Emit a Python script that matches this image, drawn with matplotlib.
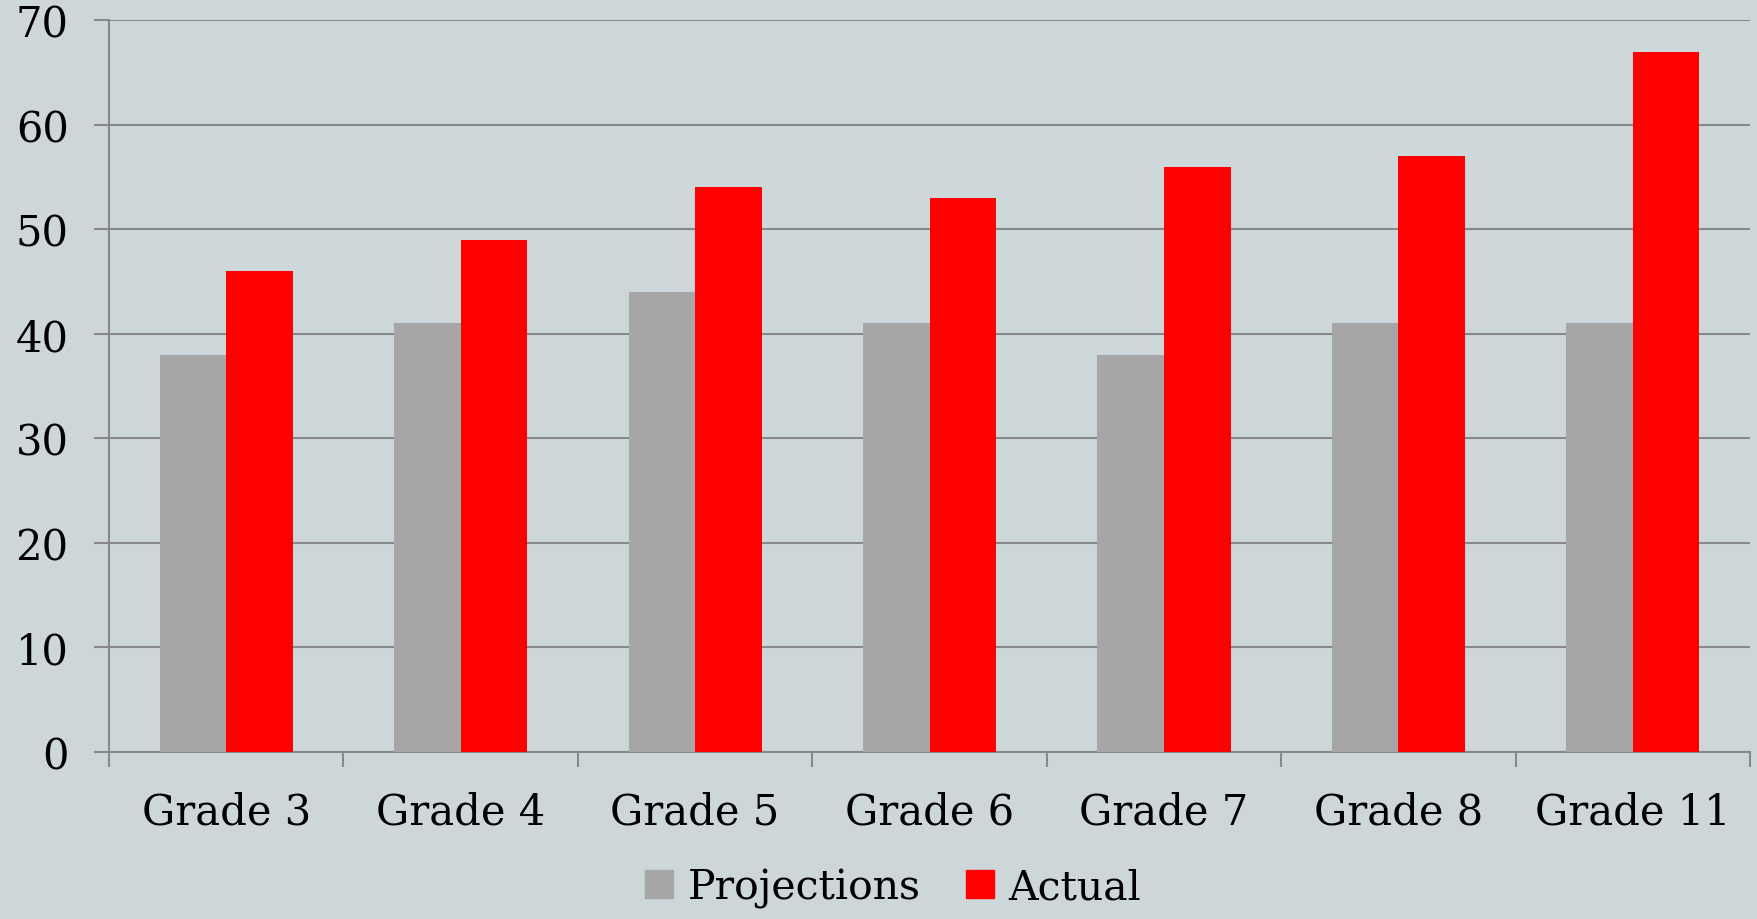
import matplotlib.pyplot as plt
import numpy as np
from matplotlib.patches import Patch

plt.rcParams['font.family'] = ['DejaVu Serif']

grades = ['Grade 3', 'Grade 4', 'Grade 5', 'Grade 6', 'Grade 7', 'Grade 8', 'Grade 11']
projections = [38, 41, 44, 41, 38, 41, 41]
actual = [46, 49, 54, 53, 56, 57, 67]

bg = '#CDD7DA'
grey = '#A6A6A6'
red = '#FF0000'
line_c = '#888888'

fig = plt.figure(figsize=(17.58, 9.2), dpi=100, facecolor=bg)
ax = fig.add_axes([0.062, 0.1815, 0.9335, 0.7955], facecolor=bg)

x = np.arange(len(grades))
w = 0.284
ax.bar(x - w / 2, projections, w, color=grey, zorder=3)
ax.bar(x + w / 2, actual, w, color=red, zorder=3)

ax.set_xlim(-0.5, len(grades) - 0.5)
ax.set_ylim(0, 70)
ax.set_yticks(range(0, 71, 10))
ax.yaxis.grid(True, color=line_c, linewidth=1.5, zorder=0)
ax.set_axisbelow(True)

ax.set_xticks(x)
ax.set_xticklabels(grades)
ax.set_xticks(np.arange(-0.5, len(grades)), minor=True)
ax.tick_params(axis='x', which='major', length=0, pad=28, labelsize=30)
ax.tick_params(axis='x', which='minor', length=11, width=1.5, color=line_c)
ax.tick_params(axis='y', length=11, width=1.5, color=line_c, pad=18, labelsize=30)

for s in ['top', 'right']:
    ax.spines[s].set_visible(False)
for s in ['left', 'bottom']:
    ax.spines[s].set_color(line_c)
    ax.spines[s].set_linewidth(1.5)

handles = [Patch(color=grey, label='Projections'), Patch(color=red, label='Actual')]
fig.legend(handles=handles, loc='center', bbox_to_anchor=(0.508, 0.034), ncol=2,
           frameon=False, fontsize=29.5, handlelength=0.7, handleheight=0.7,
           handletextpad=0.35, columnspacing=1.1)

fig.savefig('out.png', facecolor=bg)
